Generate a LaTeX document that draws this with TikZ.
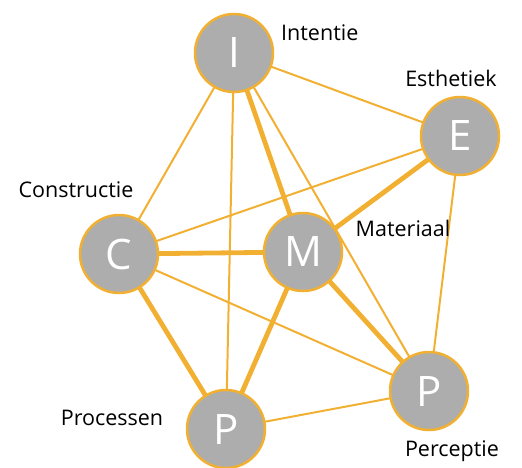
\documentclass[tikz,border=0pt]{standalone}
\usepackage{fontspec}
\setmainfont{Open Sans}
\definecolor{edgeor}{HTML}{F2B033}
\definecolor{nodegray}{HTML}{ADADAD}
\begin{document}
\begin{tikzpicture}[x=1pt,y=-1pt,
  hub/.style={circle,draw=edgeor,line width=2.5pt,fill=nodegray,minimum size=78pt,inner sep=0pt,text=white,font=\fontsize{42}{42}\selectfont},
  thin/.style={draw=edgeor,line width=2pt},
  thick/.style={draw=edgeor,line width=4.8pt},
  lbl/.style={text=black,font=\fontsize{21.5}{21.5}\selectfont,inner sep=0pt}]
\useasboundingbox (0,0) rectangle (522,467);
\coordinate (pI) at (234,53);
\coordinate (pE) at (460,136);
\coordinate (pC) at (119,254);
\coordinate (pM) at (303,252);
\coordinate (pR) at (429,391);
\coordinate (pB) at (226,429);
% edges
\draw[thin] (pI) -- (pE);
\draw[thin] (pI) -- (pC);
\draw[thin] (pI) -- (pB);
\draw[thin] (pI) -- (pR);
\draw[thin] (pE) -- (pC);
\draw[thin] (pE) -- (pR);
\draw[thin] (pC) -- (pR);
\draw[thin] (pB) -- (pR);
\draw[thick] (pI) -- (pM);
\draw[thick] (pE) -- (pM);
\draw[thick] (pC) -- (pM);
\draw[thick] (pC) -- (pB);
\draw[thick] (pM) -- (pB);
\draw[thick] (pM) -- (pR);
% nodes
\node[hub] (I) at (pI) {I};
\node[hub] (E) at (pE) {E};
\node[hub] (C) at (pC) {C};
\node[hub] (M) at (pM) {M};
\node[hub] (R) at (pR) {P};
\node[hub] (B) at (pB) {P};
% labels
\node[lbl,anchor=west] (lI) at (281,33) {Intentie};
\node[lbl] (lE) at (451,78) {Esthetiek};
\node[lbl] (lC) at (76,190) {Constructie};
\node[lbl] (lM) at (403,228) {Materiaal};
\node[lbl] (lB) at (112,418) {Processen};
\node[lbl] (lR) at (452,451) {Perceptie};
\end{tikzpicture}
\end{document}
